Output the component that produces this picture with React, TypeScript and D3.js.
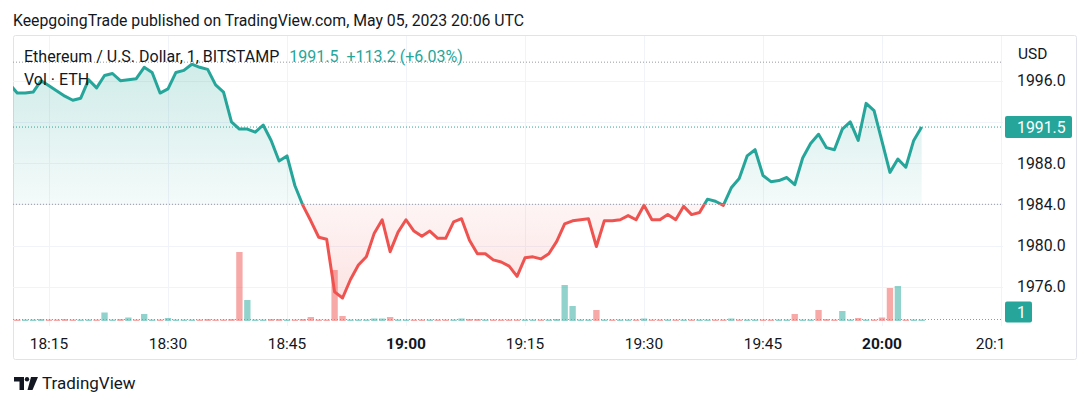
import React from 'react'
import * as d3 from 'd3'

// one close per minute, 18:10 .. 20:05 UTC
const startTime = Date.UTC(2023, 4, 5, 18, 10)
const closes = [
    1995.7, 1994.8, 1994.8, 1994.9, 1996.0, 1995.5, 1995.0, 1994.5, 1994.1, 1994.3,
    1996.1, 1995.3, 1996.5, 1996.7, 1996.0, 1996.1, 1996.2, 1997.3, 1996.8, 1994.8,
    1995.2, 1996.8, 1997.0, 1997.6, 1997.3, 1997.1, 1995.6, 1994.9, 1992.0, 1991.3,
    1991.3, 1991.0, 1991.7, 1990.2, 1988.2, 1988.7, 1985.8, 1983.9, 1982.4, 1980.8,
    1980.6, 1975.5, 1974.9, 1976.7, 1978.1, 1978.9, 1981.2, 1982.5, 1979.4, 1981.3,
    1982.5, 1981.4, 1980.9, 1981.4, 1980.7, 1980.7, 1982.3, 1982.6, 1980.5, 1979.2,
    1979.2, 1978.6, 1978.4, 1978.0, 1977.0, 1978.8, 1978.9, 1978.7, 1979.2, 1980.4,
    1982.1, 1982.4, 1982.5, 1982.6, 1979.9, 1982.4, 1982.4, 1982.5, 1982.9, 1982.5,
    1983.9, 1982.5, 1982.5, 1983.0, 1982.5, 1983.8, 1983.0, 1983.2, 1984.5, 1984.3,
    1983.9, 1985.6, 1986.5, 1988.7, 1989.3, 1986.8, 1986.2, 1986.3, 1986.6, 1985.9,
    1988.5, 1989.9, 1990.8, 1989.5, 1989.3, 1991.3, 1992.0, 1990.2, 1993.8, 1993.1,
    1990.1, 1987.1, 1988.4, 1987.6, 1990.2, 1991.5
]
const volumes = [
    3, 3, 3, 3, 4, 3, 3, 4, 3, 3,
    3, 3, 17, 3, 4, 7, 3, 14, 3, 3,
    6, 3, 3, 3, 3, 4, 3, 3, 4, 138,
    42, 3, 3, 4, 4, 3, 3, 4, 8, 3,
    3, 102, 10, 3, 3, 3, 5, 5, 8, 3,
    3, 3, 3, 3, 3, 3, 3, 5, 4, 4,
    3, 3, 3, 3, 3, 3, 3, 3, 3, 4,
    72, 30, 3, 3, 22, 3, 3, 3, 3, 3,
    5, 3, 3, 3, 3, 3, 3, 3, 3, 3,
    3, 5, 3, 3, 3, 3, 3, 3, 3, 14,
    3, 3, 22, 4, 3, 20, 3, 6, 3, 3,
    7, 66, 70, 3, 3, 3
]
// u = up candle, d = down candle
const volumeSide = (
    'dduuudddduud' + 'uududuuduuuu' + 'dddddduuuddu' + 'ddddddduuuuu' +
    'duuddudduudd' + 'udddduuduuuu' + 'uududuududdu' + 'duduudduduud' +
    'duuduuddduud' + 'uddduduu'
).split('')

const priceTicks = [1976, 1980, 1984, 1988, 1992, 1996]
const timeTicks = ['18:15', '18:30', '18:45', '19:00', '19:15', '19:30', '19:45', '20:00', '20:15']
const baseLevel = 1984.0
const lastPrice = 1991.5
const highLevel = 1997.8
const lastVolumeLabel = '1'

const UP = '#26a69a'
const DOWN = '#ef5350'
const TEXT = '#131722'
const FONT = 'Roboto, "Liberation Sans", sans-serif'

const plot = { left: 13, right: 1003, top: 36, bottom: 326 }

const toDate = (hm: string) => {
    const [h, m] = hm.split(':').map(Number)
    return new Date(Date.UTC(2023, 4, 5, h, m))
}

export default function App () {
    const points = closes.map((c, i) => ({ t: new Date(startTime + i * 60000), c, v: volumes[i], up: volumeSide[i] === 'u' }))

    const x = d3.scaleUtc().domain([toDate('18:15'), toDate('20:15')]).range([49, 1001])
    const y = d3.scaleLinear().domain([1976, 1996]).range([286.7, 80.7])
    const yVol = d3.scaleLinear().domain([0, 140]).range([321, 251])
    const step = x(new Date(startTime + 60000)) - x(new Date(startTime))
    const barW = step * 0.8

    const line = d3.line<any>().x(d => x(d.t)).y(d => y(d.c))
    const area = d3.area<any>().x(d => x(d.t)).y0(y(baseLevel)).y1(d => y(d.c))
    const baseY = y(baseLevel)

    // tick labels hidden behind the last price badge
    const tickLabels = priceTicks.filter(p => Math.abs(y(p) - y(lastPrice)) > 16)

    return (
        <svg width={1090} height={407} style={{ position: 'absolute', left: 0, top: 0, background: '#fff' }}
            fontFamily={FONT}>
            <defs>
                <clipPath id='plot'>
                    <rect x={plot.left} y={plot.top} width={plot.right - plot.left} height={plot.bottom - plot.top} />
                </clipPath>
                <clipPath id='above'>
                    <rect x={plot.left} y={plot.top} width={plot.right - plot.left} height={baseY - plot.top} />
                </clipPath>
                <clipPath id='below'>
                    <rect x={plot.left} y={baseY} width={plot.right - plot.left} height={plot.bottom - baseY} />
                </clipPath>
                <clipPath id='timeaxis'>
                    <rect x={plot.left} y={326} width={plot.right - plot.left} height={34} />
                </clipPath>
                <linearGradient id='upFill' gradientUnits='userSpaceOnUse' x1={0} x2={0} y1={y(highLevel)} y2={baseY}>
                    <stop offset='0%' stopColor={UP} stopOpacity={0.22} />
                    <stop offset='100%' stopColor={UP} stopOpacity={0.05} />
                </linearGradient>
                <linearGradient id='downFill' gradientUnits='userSpaceOnUse' x1={0} x2={0} y1={baseY} y2={y(1974.9)}>
                    <stop offset='0%' stopColor={DOWN} stopOpacity={0.06} />
                    <stop offset='100%' stopColor={DOWN} stopOpacity={0.16} />
                </linearGradient>
            </defs>

            <text x={13} y={26} fontSize={15.8} fill={TEXT}>
                KeepgoingTrade published on TradingView.com, May 05, 2023 20:06 UTC
            </text>

            <rect x={13.5} y={35.5} width={1063} height={324} fill='none' stroke='#e0e3eb' rx={2} />

            {/* grid */}
            <g stroke='#f0f3fa' strokeWidth={1}>
                {priceTicks.map(p => (
                    <line key={p} x1={plot.left} x2={plot.right} y1={Math.round(y(p)) + 0.5} y2={Math.round(y(p)) + 0.5} />
                ))}
                {timeTicks.map(t => (
                    <line key={t} x1={Math.round(x(toDate(t))) + 0.5} x2={Math.round(x(toDate(t))) + 0.5} y1={plot.top} y2={plot.bottom} />
                ))}
            </g>

            <g clipPath='url(#plot)'>
                {/* volume */}
                {points.map((d, i) => (
                    <rect
                        key={i}
                        x={x(d.t) - barW / 2}
                        width={barW}
                        y={yVol(d.v)}
                        height={yVol(0) - yVol(d.v)}
                        fill={d.up ? UP : DOWN}
                        fillOpacity={0.5}
                    />
                ))}

                <g clipPath='url(#above)'>
                    <path d={area(points)} fill='url(#upFill)' />
                </g>
                <g clipPath='url(#below)'>
                    <path d={area(points)} fill='url(#downFill)' />
                </g>

                {/* price lines */}
                <line x1={plot.left} x2={plot.right} y1={y(highLevel)} y2={y(highLevel)} stroke='#9598a1' strokeDasharray='1 2' />
                <line x1={plot.left} x2={plot.right} y1={baseY} y2={baseY} stroke='#9598a1' strokeDasharray='1 2' />
                <line x1={plot.left} x2={plot.right} y1={y(lastPrice)} y2={y(lastPrice)} stroke={UP} strokeDasharray='1 2' />
                <line x1={plot.left} x2={plot.right} y1={319.5} y2={319.5} stroke='#9598a1' strokeDasharray='1 2' />

                <g clipPath='url(#above)'>
                    <path d={line(points)} fill='none' stroke={UP} strokeWidth={3} strokeLinejoin='round' />
                </g>
                <g clipPath='url(#below)'>
                    <path d={line(points)} fill='none' stroke={DOWN} strokeWidth={3} strokeLinejoin='round' />
                </g>
            </g>

            {/* legend */}
            <text x={24} y={62} fontSize={16} fill={TEXT}>
                Ethereum / U.S. Dollar, 1, BITSTAMP
                <tspan fill={UP} dx={10}>1991.5</tspan>
                <tspan fill={UP} dx={8}>+113.2 (+6.03%)</tspan>
            </text>
            <text x={24} y={85} fontSize={16} fill={TEXT}>Vol · ETH</text>

            {/* price axis */}
            <text x={1018} y={59} fontSize={15.5} fill={TEXT}>USD</text>
            {tickLabels.map(p => (
                <text key={p} x={1017} y={y(p)} dy='0.36em' fontSize={15.8} fill={TEXT}>{p.toFixed(1)}</text>
            ))}
            <rect x={1005} y={y(lastPrice) - 11} width={67} height={22} rx={2} fill={UP} />
            <text x={1017} y={y(lastPrice)} dy='0.36em' fontSize={15.8} fill='#fff'>{lastPrice.toFixed(1)}</text>
            <rect x={1005} y={301.5} width={27} height={21} rx={2} fill={UP} />
            <text x={1017} y={312} dy='0.36em' fontSize={15.8} fill='#fff'>{lastVolumeLabel}</text>

            {/* time axis */}
            <g clipPath='url(#timeaxis)'>
                {timeTicks.map(t => (
                    <text
                        key={t}
                        x={Math.min(x(toDate(t)), plot.right - 8)}
                        y={343}
                        dy='0.36em'
                        fontSize={15.5}
                        fill={TEXT}
                        textAnchor='middle'
                        fontWeight={t.endsWith(':00') ? 700 : 400}
                    >
                        {t}
                    </text>
                ))}
            </g>

            {/* logo */}
            <g fill={TEXT}>
                <path d='M14 377 H24 V390 H19.5 V381.5 H14 Z' />
                <circle cx={27} cy={379.3} r={2.2} />
                <path d='M31 377 H38 L32.5 390 H27.5 Z' />
            </g>
            <text x={42} y={389} fontSize={17} fill={TEXT}>TradingView</text>
        </svg>
    )
}
